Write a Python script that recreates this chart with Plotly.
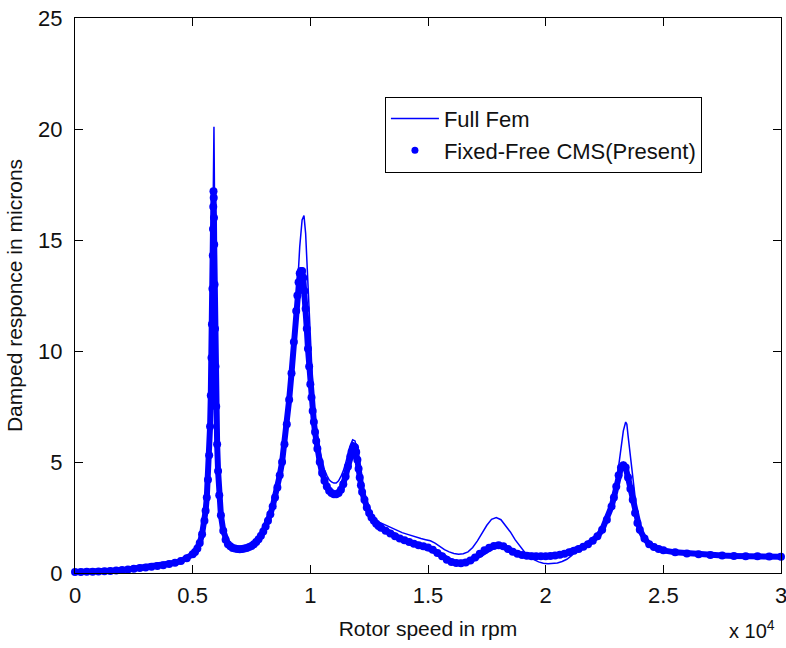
import plotly.graph_objects as go

# ---- Data ----
rpm_fem = [0, 500, 1000, 1500, 2000, 2500, 3000, 3500, 4000, 4500, 5000, 5200, 5400, 5500, 5600,
           5700, 5770, 5820, 5860, 5890, 5905, 5920, 5940, 5960, 5990, 6040, 6080, 6130, 6200, 6300,
           6400, 6500, 6700, 6900, 7100, 7300, 7500, 7700, 7900, 8100, 8300, 8500, 8700, 8900, 9100,
           9300, 9450, 9550, 9650, 9730, 9800, 9900, 10000, 10100, 10200, 10300, 10400, 10500, 10600,
           10700, 10800, 10900, 11000, 11100, 11200, 11300, 11400, 11500, 11600, 11700, 11800, 11900,
           12000, 12100, 12200, 12300, 12400, 12500, 12700, 12900, 13100, 13300, 13500, 13700, 13900,
           14100, 14300, 14500, 14700, 14900, 15100, 15300, 15500, 15700, 15900, 16100, 16300, 16500,
           16700, 16900, 17100, 17300, 17500, 17700, 17900, 18100, 18300, 18500, 18700, 18900, 19100,
           19300, 19500, 19700, 19900, 20100, 20300, 20500, 20700, 20900, 21100, 21300, 21500, 21700,
           22000, 22200, 22400, 22600, 22800, 22900, 23000, 23100, 23200, 23300, 23400, 23450, 23500,
           23600, 23700, 23800, 23900, 24000, 24200, 24400, 24600, 24800, 25000, 26000, 27000, 28000,
           29000, 30000]
resp_fem = [0.05, 0.06, 0.07, 0.09, 0.13, 0.19, 0.25, 0.31, 0.40, 0.54, 0.84, 1.10, 1.75, 2.35, 3.40,
            5.30, 8.00, 11.5, 15.5, 18.8, 20.1, 18.0, 14.5, 11.5, 8.5, 5.8, 4.6, 3.5, 2.6, 1.9,
            1.5, 1.3, 1.13, 1.08, 1.08, 1.13, 1.22, 1.40, 1.68, 2.10, 2.65, 3.40, 4.40, 5.80, 7.80,
            10.4, 12.8, 14.7, 15.9, 16.1, 15.3, 13.0, 10.5, 8.4, 7.0, 6.1, 5.5, 5.0, 4.65,
            4.4, 4.2, 4.1, 4.05, 4.05, 4.15, 4.35, 4.6, 4.95, 5.35, 5.75, 6.0, 5.95,
            5.4, 4.6, 3.9, 3.4, 3.0, 2.75, 2.45, 2.3, 2.2, 2.1, 2.0, 1.9, 1.82,
            1.75, 1.68, 1.6, 1.55, 1.5, 1.45, 1.35, 1.2, 1.05, 0.95, 0.88, 0.85, 0.87,
            0.95, 1.15, 1.45, 1.8, 2.15, 2.42, 2.5, 2.4, 2.15, 1.85, 1.5, 1.2, 0.95,
            0.75, 0.6, 0.5, 0.44, 0.42, 0.42, 0.45, 0.52, 0.62, 0.78, 0.98, 1.12, 1.24,
            1.45, 1.65, 1.95, 2.4, 3.0, 3.5, 4.1, 4.8, 5.6, 6.4, 6.8, 6.7, 6.2,
            5.2, 4.2, 3.2, 2.5, 2.05, 1.55, 1.3, 1.15, 1.07, 1.02, 0.88, 0.81, 0.77,
            0.75, 0.73]

rpm_cms = [0, 250, 500, 750, 1000, 1250, 1500, 1750, 2000, 2250, 2500, 2750, 3000, 3250, 3500, 3750,
           4000, 4250, 4500, 4750, 5000, 5100, 5200, 5300, 5400, 5500, 5550, 5600, 5650, 5700, 5740,
           5770, 5800, 5820, 5840, 5855, 5865, 5875, 5885, 5895, 5905, 5915, 5930, 5950, 5970, 6000,
           6040, 6080, 6130, 6200, 6300, 6400, 6500, 6600, 6700, 6800, 6900, 7000, 7100, 7200, 7300,
           7400, 7500, 7600, 7700, 7800, 7900, 8000, 8100, 8200, 8300, 8400, 8500, 8600, 8700, 8800,
           8900, 9000, 9100, 9200, 9300, 9400, 9450, 9500, 9550, 9600, 9650, 9700, 9750, 9800, 9850,
           9900, 9950, 10000, 10050, 10100, 10150, 10200, 10250, 10300, 10400, 10500, 10600, 10700,
           10800, 10900, 11000, 11100, 11200, 11300, 11400, 11500, 11600, 11700, 11750, 11800, 11850,
           11900, 11950, 12000, 12050, 12100, 12150, 12200, 12300, 12400, 12500, 12600, 12700, 12800,
           12900, 13000, 13200, 13400, 13600, 13800, 14000, 14200, 14400, 14600, 14800, 15000, 15200,
           15400, 15600, 15800, 16000, 16200, 16400, 16600, 16800, 17000, 17200, 17400, 17600, 17800,
           18000, 18200, 18400, 18600, 18800, 19000, 19200, 19400, 19600, 19800, 20000, 20200, 20400,
           20600, 20800, 21000, 21200, 21400, 21600, 21800, 22000, 22200, 22400, 22600, 22800, 22900,
           23000, 23100, 23200, 23300, 23400, 23500, 23600, 23700, 23800, 23900, 24000, 24200, 24400,
           24600, 24800, 25000, 25500, 26000, 26500, 27000, 27500, 28000, 28500, 29000, 29500, 30000]
resp_cms = [0.05, 0.05, 0.06, 0.06, 0.07, 0.08, 0.09, 0.11, 0.13, 0.16, 0.19, 0.22, 0.25, 0.28, 0.31, 0.35,
            0.40, 0.46, 0.54, 0.66, 0.84, 0.95, 1.10, 1.35, 1.75, 2.35, 2.80, 3.40, 4.20, 5.30, 6.60,
            8.0, 9.7, 11.2, 12.8, 14.3, 15.5, 16.5, 17.2, 16.9, 16.0, 14.8, 13.0, 11.0, 9.3, 7.5,
            5.8, 4.6, 3.5, 2.6, 1.9, 1.5, 1.3, 1.2, 1.13, 1.1, 1.08, 1.07, 1.08, 1.1, 1.13,
            1.17, 1.22, 1.3, 1.4, 1.52, 1.68, 1.87, 2.1, 2.35, 2.65, 3.0, 3.4, 3.85, 4.4, 5.0,
            5.8, 6.7, 7.8, 9.0, 10.4, 11.8, 12.5, 13.1, 13.5, 13.6, 13.6, 13.3, 12.7, 11.9, 11.0,
            10.1, 9.3, 8.5, 7.9, 7.3, 6.8, 6.35, 5.95, 5.6, 5.0, 4.5, 4.15, 3.9,
            3.7, 3.6, 3.55, 3.55, 3.6, 3.75, 4.0, 4.35, 4.8, 5.25, 5.45, 5.6, 5.7,
            5.65, 5.45, 5.1, 4.7, 4.3, 3.95, 3.65, 3.3, 2.95, 2.7, 2.5, 2.35, 2.22,
            2.12, 2.04, 1.9, 1.78, 1.65, 1.55, 1.47, 1.4, 1.32, 1.25, 1.2, 1.15, 1.05,
            0.9, 0.75, 0.6, 0.5, 0.45, 0.44, 0.47, 0.56, 0.7, 0.87, 1.02, 1.14, 1.22,
            1.25, 1.2, 1.08, 0.96, 0.87, 0.81, 0.78, 0.76, 0.75, 0.75, 0.76, 0.77, 0.79,
            0.82, 0.87, 0.93, 1.0, 1.08, 1.18, 1.3, 1.45, 1.65, 1.95, 2.4, 3.0, 3.4,
            3.9, 4.4, 4.75, 4.85, 4.75, 4.3, 3.8, 3.3, 2.7, 2.25, 1.95, 1.55, 1.3,
            1.17, 1.08, 1.02, 0.93, 0.88, 0.84, 0.81, 0.79, 0.77, 0.76, 0.75, 0.74, 0.73]

x_tickvals = [0, 5000, 10000, 15000, 20000, 25000, 30000]
x_ticktext = ["0", "0.5", "1", "1.5", "2", "2.5", "3"]
y_tickvals = [0, 5, 10, 15, 20, 25]

BLUE = "#0000FF"
FONT = "Liberation Sans, Arial, Helvetica, sans-serif"
TXT = "#111111"

fig = go.Figure()
fig.add_trace(go.Scatter(x=rpm_fem, y=resp_fem, mode="lines", name="Full Fem",
                         line=dict(color=BLUE, width=1.5), cliponaxis=False))
fig.add_trace(go.Scatter(x=rpm_cms, y=resp_cms, mode="lines+markers", showlegend=False,
                         line=dict(color=BLUE, width=6),
                         marker=dict(color=BLUE, size=8, symbol="circle"),
                         cliponaxis=False))
# legend proxy for marker-only display
fig.add_trace(go.Scatter(x=[None], y=[None], mode="markers", name="Fixed-Free CMS(Present)",
                         marker=dict(color=BLUE, size=7)))

fig.update_layout(
    width=786, height=648,
    margin=dict(l=75, r=5, t=18, b=75),
    paper_bgcolor="white", plot_bgcolor="white",
    font=dict(family=FONT, size=21, color=TXT),
    showlegend=True,
    legend=dict(x=0.439, y=0.858, xanchor="left", yanchor="top",
                bgcolor="white", bordercolor="black", borderwidth=1,
                itemwidth=48,
                font=dict(size=22, family=FONT, color=TXT), tracegroupgap=0),
    xaxis=dict(range=[0, 30000], tickvals=x_tickvals, ticktext=x_ticktext,
               ticks="inside", ticklen=8, tickcolor="black", showgrid=False, zeroline=False,
               showline=True, linecolor="black", linewidth=1, mirror="ticks",
               ticklabelstandoff=3, automargin=False, tickfont=dict(size=22),
               ticklabeloverflow="allow",
               title=dict(text="Rotor speed in rpm", standoff=13, font=dict(size=21))),
    yaxis=dict(range=[0, 25], tickvals=y_tickvals,
               ticks="inside", ticklen=8, tickcolor="black", showgrid=False, zeroline=False,
               showline=True, linecolor="black", linewidth=1, mirror="ticks",
               ticklabelstandoff=7, automargin=False, tickfont=dict(size=22),
               ticklabeloverflow="allow",
               title=dict(text="Damped responce in microns", standoff=9, font=dict(size=21))),
    annotations=[dict(text="x 10<sup>4</sup>", xref="paper", yref="paper", x=0.995, y=-0.128,
                      xanchor="right", yanchor="bottom", showarrow=False,
                      font=dict(size=20, family=FONT, color=TXT))],
)

fig.write_html("out.html", config={"displayModeBar": False},
               post_script="document.body.style.margin='0';")
